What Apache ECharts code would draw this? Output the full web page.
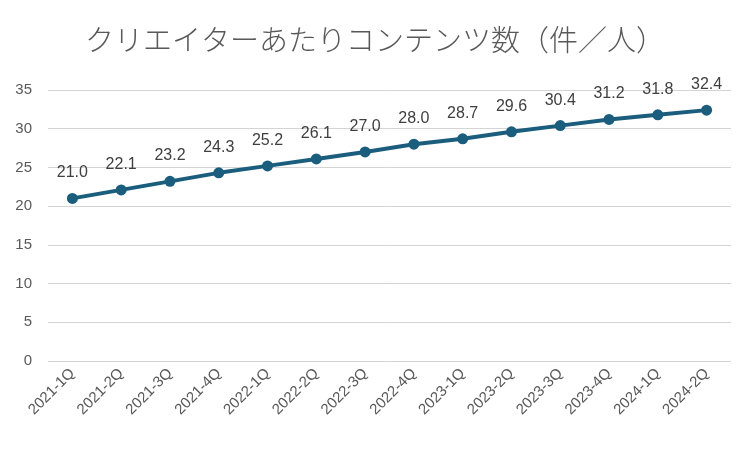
<!DOCTYPE html>
<html>
<head>
<meta charset="utf-8">
<script src="https://cdn.jsdelivr.net/npm/echarts@6/dist/echarts.min.js"></script>
<style>
  html, body { margin: 0; padding: 0; background: #fff; }
  #chart { width: 750px; height: 449px; }
</style>
</head>
<body>
<div id="chart"></div>
<script>
var quarters = ['2021-1Q', '2021-2Q', '2021-3Q', '2021-4Q', '2022-1Q', '2022-2Q', '2022-3Q',
    '2022-4Q', '2023-1Q', '2023-2Q', '2023-3Q', '2023-4Q', '2024-1Q', '2024-2Q'];
var contentsPerCreator = [21.0, 22.1, 23.2, 24.3, 25.2, 26.1, 27.0, 28.0, 28.7, 29.6, 30.4, 31.2, 31.8, 32.4];
var titleText = 'クリエイターあたりコンテンツ数（件／人）';

var chart = echarts.init(document.getElementById('chart'));
var option = {
    animation: false,
    title: {
        text: titleText,
        left: 'center',
        top: 20,
        textStyle: {
            fontFamily: 'Noto Sans CJK JP',
            fontWeight: 300,
            fontSize: 29,
            color: '#595959'
        }
    },
    grid: {
        left: 48,
        right: 19,
        top: 90,
        bottom: 88
    },
    xAxis: {
        type: 'category',
        data: quarters,
        boundaryGap: true,
        axisLine: { show: false },
        axisTick: { show: false },
        axisLabel: {
            rotate: 45,
            interval: 0,
            margin: 10,
            fontFamily: 'Liberation Sans',
            fontSize: 15,
            color: '#595959'
        }
    },
    yAxis: {
        type: 'value',
        min: 0,
        max: 35,
        interval: 5,
        axisLine: { show: false },
        axisTick: { show: false },
        axisLabel: {
            margin: 16,
            fontFamily: 'Liberation Sans',
            fontSize: 15,
            color: '#595959'
        },
        splitLine: { lineStyle: { color: '#d4d4d4', width: 1 } }
    },
    series: [{
        type: 'line',
        data: contentsPerCreator,
        symbol: 'circle',
        symbolSize: 11,
        lineStyle: { color: '#1b5d7d', width: 4 },
        itemStyle: { color: '#1b5d7d' },
        label: {
            show: true,
            position: 'top',
            distance: 12,
            formatter: function (p) { return p.value.toFixed(1); },
            fontFamily: 'Liberation Sans',
            fontSize: 16,
            color: '#404040'
        }
    }]
};
chart.setOption(option);
</script>
</body>
</html>
